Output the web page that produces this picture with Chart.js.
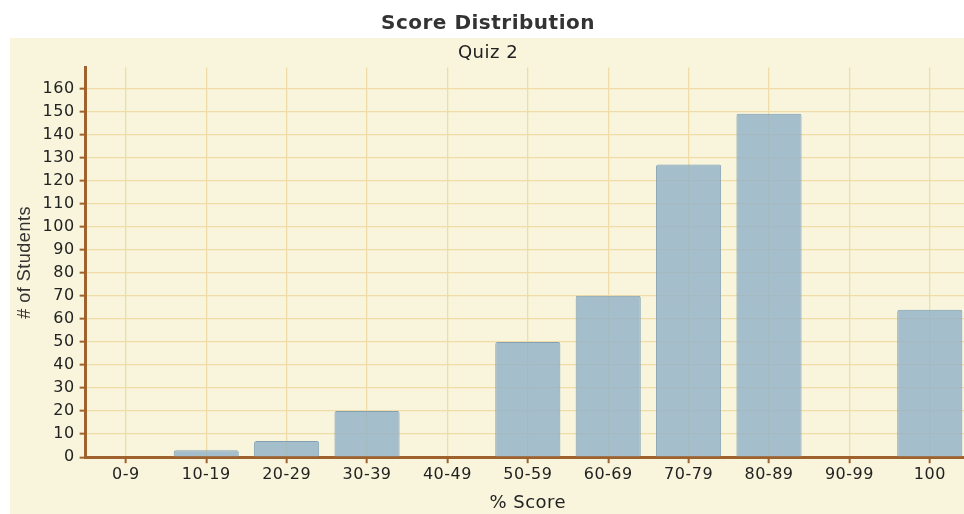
<!DOCTYPE html>
<html>
<head>
<meta charset="utf-8">
<script src="https://cdn.jsdelivr.net/npm/chart.js@4"></script>
<style>
  html, body { margin: 0; padding: 0; background: #fff; overflow: hidden; }
  #panel { position: absolute; left: 10px; top: 38px; width: 970px; height: 476px; background: #f8f5dc; }
  #wrap { position: absolute; left: 0; top: 0; width: 970px; height: 514px; }
</style>
</head>
<body>
<div id="panel"></div>
<div id="wrap"><canvas id="chart"></canvas></div>
<script>
const scoreRanges = ["0-9", "10-19", "20-29", "30-39", "40-49", "50-59", "60-69", "70-79", "80-89", "90-99", "100"];
const studentCounts = [0, 3, 7, 20, 0, 50, 70, 127, 149, 0, 64];

const brown = "#a0622d";
const gridGold = "#efdca6";
const font = "'DejaVu Sans', Verdana, sans-serif";

// Verdana in the original runs a bit wider than DejaVu, so add a little tracking
const tracking = {
  id: "tracking",
  beforeLayout: chart => { chart.ctx.letterSpacing = "0.5px"; },
  beforeDraw: chart => { chart.ctx.letterSpacing = "0.5px"; }
};

const ctx = document.getElementById("chart").getContext("2d");
new Chart(ctx, {
  type: "bar",
  data: {
    labels: scoreRanges,
    datasets: [{
      label: "# of Students",
      data: studentCounts,
      backgroundColor: "rgba(150,180,200,0.85)",
      borderColor: "#83a1b2",
      borderWidth: 1,
      borderRadius: 2,
      borderSkipped: "bottom",
      barPercentage: 0.81,
      categoryPercentage: 1
    }]
  },
  options: {
    responsive: true,
    maintainAspectRatio: false,
    animation: false,
    layout: { padding: { left: 6, right: 0, top: 0, bottom: 0 } },
    plugins: {
      legend: { display: false },
      tooltip: { enabled: false },
      title: {
        display: true,
        text: "Score Distribution",
        color: "#333",
        font: { family: font, size: 20, weight: "bold" },
        padding: { top: 12, bottom: 4 }
      },
      subtitle: {
        display: true,
        text: "Quiz 2",
        color: "#222",
        font: { family: font, size: 18 },
        padding: { top: 3, bottom: 3 }
      }
    },
    scales: {
      x: {
        grid: {
          offset: false,
          color: gridGold,
          tickColor: brown,
          tickLength: 6,
          lineWidth: 1.3,
          tickWidth: 2
        },
        border: { color: brown, width: 3 },
        ticks: { color: "#222", font: { family: font, size: 16 }, padding: 2, maxRotation: 0 },
        title: {
          display: true,
          text: "% Score",
          color: "#222",
          font: { family: font, size: 18 },
          padding: { top: 6, bottom: 0 }
        }
      },
      y: {
        min: 0,
        max: 169,
        afterBuildTicks: axis => { axis.ticks = axis.ticks.filter(t => t.value % 10 === 0); },
        grid: {
          color: gridGold,
          tickColor: brown,
          tickLength: 6,
          lineWidth: 1.3,
          tickWidth: 2
        },
        border: { color: brown, width: 3 },
        ticks: { stepSize: 10, color: "#222", font: { family: font, size: 16 }, padding: 5 },
        title: {
          display: true,
          text: "# of Students",
          color: "#333",
          font: { family: "'Liberation Sans', Arial, sans-serif", size: 18 },
          padding: { top: 8, bottom: 2 }
        }
      }
    }
  },
  plugins: [tracking]
});
</script>
</body>
</html>
